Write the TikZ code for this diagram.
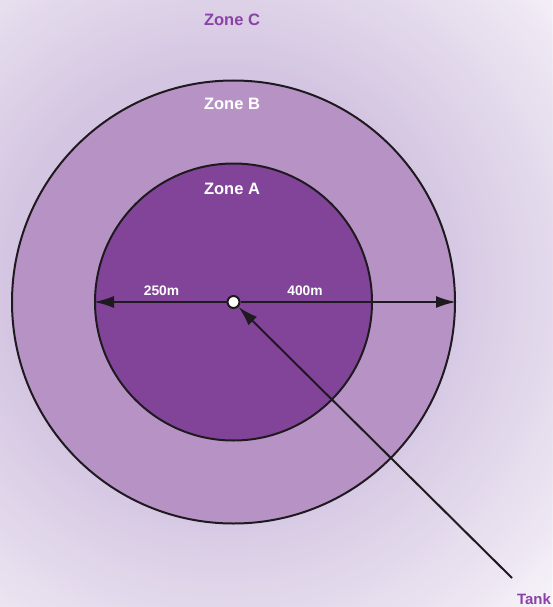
\documentclass[tikz,border=0pt]{standalone}
\usepackage{fontspec}
\setmainfont{Liberation Sans}
\usepackage{xcolor}
\usepackage{tikz}
\usetikzlibrary{arrows.meta,positioning,shapes}
\definecolor{zonepurple}{RGB}{138, 66, 166}
\definecolor{zoneadeep}{RGB}{129, 68, 152}
\definecolor{zonebsoft}{RGB}{183, 147, 197}
\definecolor{bgdeep}{RGB}{212, 198, 226}
\definecolor{bgpale}{RGB}{234, 226, 240}
\definecolor{bgwhite}{RGB}{248, 245, 250}
\definecolor{inkline}{RGB}{30, 26, 32}

\tikzset{
    zonering/.style={circle, draw=inkline, line width=2pt, inner sep=0pt},
    zonelabel/.style={text=white, font=\fontsize{16.5}{18}\selectfont\bfseries},
    distlabel/.style={text=white, font=\fontsize{13.8}{16}\selectfont\bfseries},
    dimarrow/.style={->, line width=2pt, color=inkline}
}

\begin{document}
\begin{tikzpicture}[x=1pt, y=-1pt, >={Latex[length=20pt, width=12pt]}]
        \useasboundingbox (0,0) rectangle (552,607);
        % Backdrop glow
        \begin{scope}
            \clip (0,0) rectangle (552,607);
            \fill[bgwhite] (0,0) rectangle (552,607);
            \coordinate (glowc) at (222,285);
            \foreach \r in {470,465,...,385} {
                \pgfmathsetmacro{\mixpct}{(\r-380)/90*100}
                \fill[bgwhite!\mixpct!bgpale] (glowc) circle (\r);
            }
            \foreach \r in {380,375,...,220} {
                \pgfmathsetmacro{\mixpct}{(\r-220)/160*100}
                \fill[bgpale!\mixpct!bgdeep] (glowc) circle (\r);
            }
        \end{scope}

        % Zones B and A
        \node[zonering, fill=zonebsoft, minimum size=443pt] (zoneB) at (233.5,302) {};
        \node[zonering, fill=zoneadeep, minimum size=277pt] (zoneA) at (233.5,302) {};

        % Zone names
        \node[zonelabel, text=zonepurple] (labelC) at (232,20) {Zone C};
        \node[zonelabel] (labelB) at (232,104) {Zone B};
        \node[zonelabel] (labelA) at (232,189) {Zone A};

        % Tank and distances
        \node[circle, fill=white, draw=inkline, line width=2pt, inner sep=0pt, minimum size=12pt] (tank) at (233.5,302) {};
        \draw[dimarrow] (tank) -- (zoneA.west);
        \draw[dimarrow] (tank) -- (zoneB.east);
        \node[distlabel] (dist250) at (161.5,291) {250m};
        \node[distlabel] (dist400) at (305,291) {400m};

        % Pointer to the tank
        \coordinate (tankpointer) at (512,578);
        \draw[dimarrow] (tankpointer) -- (tank);
        \node[font=\fontsize{15}{17}\selectfont\bfseries, text=zonepurple] (tanklabel) at (534,599) {Tank};
    \end{tikzpicture}
\end{document}
